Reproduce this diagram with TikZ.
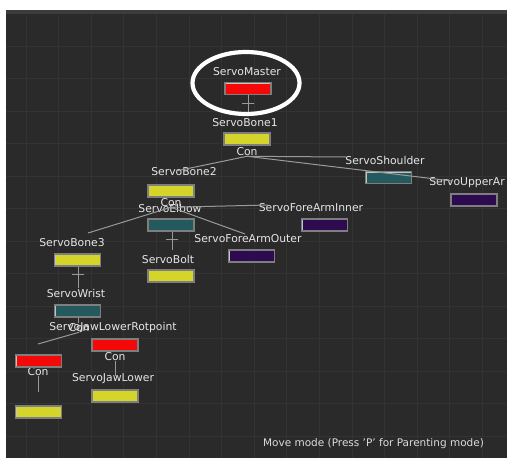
\documentclass[tikz,border=0pt]{standalone}
\usepackage{fontspec}
\setmainfont{DejaVu Sans}
\begin{document}
\definecolor{panel}{HTML}{2A2A2A}
\definecolor{panelTop}{HTML}{3C3C3C}
\definecolor{gridline}{HTML}{333333}
\definecolor{linkgray}{HTML}{9A9A9A}
\definecolor{labeltext}{HTML}{E6E6E6}
\definecolor{boxedge}{HTML}{C4C4C4}
\definecolor{boxshade}{HTML}{7E7E7E}
\definecolor{jred}{HTML}{F40808}
\definecolor{jyellow}{HTML}{D4D42A}
\definecolor{jteal}{HTML}{245A5E}
\definecolor{jpurple}{HTML}{2E0A50}
\begin{tikzpicture}[x=1pt, y=-1pt,
  lbl/.style={text=labeltext, font=\fontsize{10.8}{12}\selectfont, inner sep=0pt},
  conlbl/.style={lbl},
  joint/.style={minimum width=46pt, minimum height=12pt, inner sep=0pt,
    fill=#1, draw=boxshade, line width=1.2pt,
    path picture={
      \draw[boxedge, line width=2.6pt]
        (path picture bounding box.south west) --
        (path picture bounding box.north west) --
        (path picture bounding box.north east);}},
  link/.style={draw=linkgray, line width=1pt},
  tickmark/.style={draw=linkgray, line width=1pt, minimum width=12pt,
    minimum height=0pt, inner sep=0pt, shape=rectangle}]
% page and editor panel
\useasboundingbox (0,0) rectangle (507,458);
\fill[white] (0,0) rectangle (507,458);
\fill[panel] (6,10) rectangle (507,458);
\fill[panelTop] (6,10) rectangle (507,13.5);
% background grid
\foreach \k in {0,...,14} {
  \draw[gridline, line width=1pt] ({26+32.6*\k},13.5) -- ({26+32.6*\k},458);
}
\foreach \k in {0,...,12} {
  \draw[gridline, line width=1pt] (6,{46+32.5*\k}) -- (507,{46+32.5*\k});
}

% labels
\node[lbl] (masterlbl)   at (247,72)  {ServoMaster};
\node[lbl] (bone1lbl)    at (245,123) {ServoBone1};
\node[lbl] (bone2lbl)    at (184,172) {ServoBone2};
\node[lbl] (elbowlbl)    at (170,208) {ServoElbow};
\node[lbl] (shoulderlbl) at (385,160) {ServoShoulder};
\node[lbl] (upperlbl)    at (467,183) {ServoUpperAr};
\node[lbl] (innerlbl)    at (311,208) {ServoForeArmInner};
\node[lbl] (outerlbl)    at (248,239) {ServoForeArmOuter};
\node[lbl] (bone3lbl)    at (72,243)  {ServoBone3};
\node[lbl] (boltlbl)     at (168,259) {ServoBolt};
\node[lbl] (wristlbl)    at (76,293)  {ServoWrist};
\node[lbl] (jawrotlbl)   at (113,328) {ServoJawLowerRotpoint};
\node[lbl] (jawlowlbl)   at (113,379) {ServoJawLower};

% connector hubs
\node[conlbl] (con1) at (247,152) {Con};
\node[conlbl] (con2) at (171,203) {Con};
\node[conlbl] (con3) at (79,328)  {Con};
\node[conlbl] (con4) at (115,357) {Con};
\node[conlbl] (con5) at (38,372)  {Con};

% joint boxes
\node[joint=jred]    (master)   at (248,88.5) {};
\node[joint=jyellow] (bone1)    at (247,139)  {};
\node[joint=jyellow] (bone2)    at (171,191)  {};
\node[joint=jteal]   (elbow)    at (171,225)  {};
\node[joint=jteal]   (shoulder) at (388.5,177.5) {};
\node[joint=jpurple] (upper)    at (474,200)  {};
\node[joint=jpurple] (inner)    at (324.5,225) {};
\node[joint=jpurple] (outer)    at (251.5,256) {};
\node[joint=jyellow] (bone3)    at (77.5,260) {};
\node[joint=jyellow] (bolt)     at (171,276)  {};
\node[joint=jteal]   (wrist)    at (77.5,311) {};
\node[joint=jred]    (jawrot)   at (115,345)  {};
\node[joint=jyellow] (jawlow)   at (115,396)  {};
\node[joint=jred]    (leftred)  at (38.5,361) {};
\node[joint=jyellow] (leftyel)  at (38.5,412) {};

% end points of the parent links
\coordinate (toBone2)    at (176,171);
\coordinate (toShoulder) at (346,157);
\coordinate (toUpper)    at (452,181);
\coordinate (toBone3)    at (88,233);
\coordinate (toInner)    at (268,205);
\coordinate (toOuter)    at (245,234);
\coordinate (toLeftRed)  at (38,344);
\coordinate (toLeftYel)  at (38,392);
\coordinate (toJawLow)   at (115,376);
\coordinate (wristTail)  at (78,323);

% single-child links with a cross tick
\draw[link] (master.south -| 248,0) -- node[pos=0.38, tickmark] {} (248,116);
\draw[link] (elbow.south -| 172,0) -- node[pos=0.42, tickmark] {} (172,250);
\draw[link] (bone3.south -| 78,0) -- node[pos=0.36, tickmark] {} (78,288);
\draw[link] (wrist.south -| 78,0) -- (wristTail);

% multi-child links from the hubs
\draw[link] (con1.south) -- (toBone2);
\draw[link] (con1.south) -- (toShoulder);
\draw[link] (con1.south) -- (toUpper);
\draw[link] (con2.south) -- (toBone3);
\draw[link] (con2.south) -- (toInner);
\draw[link] (con2.south) -- (toOuter);
\draw[link] (con3.south) -- (toLeftRed);
\draw[link] (con5.south) -- (toLeftYel);
\draw[link] (con4.south) -- (toJawLow);

% highlight ring around the root joint
\draw[white, line width=4.2pt] (246,83) ellipse [x radius=53.5, y radius=31];

% status line
\node[lbl, text=labeltext!90!gray, font=\fontsize{10.5}{12}\selectfont] (status) at (373.5,444)
  {Move mode (Press 'P' for Parenting mode)};
\end{tikzpicture}
\end{document}
